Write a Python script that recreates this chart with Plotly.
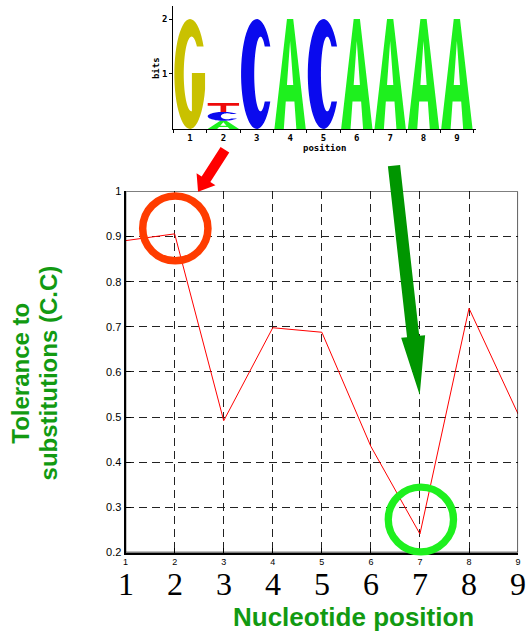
import math
import numpy as np
import plotly.graph_objects as go

# ---------------- data ----------------
positions = [1, 2, 3, 4, 5, 6, 7, 8, 9]
tolerance = [0.891, 0.906, 0.492, 0.698, 0.688, 0.435, 0.241, 0.741, 0.507]
y_ticks = [0.2, 0.3, 0.4, 0.5, 0.6, 0.7, 0.8, 0.9, 1.0]
y_tick_labels = ["0.2", "0.3", "0.4", "0.5", "0.6", "0.7", "0.8", "0.9", "1"]
x_tick_labels = ["1", "2", "3", "4", "5", "6", "7", "8", "9"]

# sequence logo (stacked bottom -> top within a position)
logo_pos = [1, 2, 2, 2, 3, 4, 5, 6, 7, 8, 9]
logo_letter = ["G", "A", "C", "T", "C", "A", "C", "A", "A", "A", "A"]
logo_bits = [2.0, 0.15, 0.16, 0.16, 2.0, 2.0, 2.0, 2.0, 2.0, 2.0, 2.0]
logo_y_ticks = [1, 2]
logo_colors = {"G": "#c9c100", "C": "#0a0aee", "A": "#1ef01e", "T": "#ee0a0a"}

W, H = 527, 637
GREEN_TXT = "#129a12"


def px(x):
    return x / W


def py(y):
    return 1 - y / H


# ---------------- glyph outlines in a unit box ----------------
def ell(cx, cy, rx, ry, a0, a1, n=48):
    a = np.radians(np.linspace(a0, a1, n))
    return list(zip(cx + rx * np.cos(a), cy + ry * np.sin(a)))


def glyph(letter):
    if letter == "C":
        ci = (0.62, 0.5, 0.2, 0.34)
        phi = math.degrees(math.asin(0.25 / ci[3]))
        pts = ell(0.5, 0.5, 0.5, 0.5, 30, 330) + ell(*ci, 360 - phi, phi)
        return [pts]
    if letter == "G":
        ci = (0.55, 0.5, 0.25, 0.34)
        phi = math.degrees(math.asin(0.25 / ci[3]))
        th = math.degrees(math.acos(0.96))
        c = (0.56 - ci[0]) / ci[2]
        lo = 360 - math.degrees(math.acos(c))
        pts = ell(0.5, 0.5, 0.5, 0.5, 30, 360 - th)
        pts += [(0.98, 0.51), (0.56, 0.51)]
        pts += ell(*ci, lo, phi)
        return [pts]
    if letter == "A":
        outer = [(0, 0), (0.4, 1), (0.6, 1), (1, 0), (0.7, 0), (0.6375, 0.25),
                 (0.3625, 0.25), (0.3, 0)]
        hole = [(0.4, 0.40), (0.6, 0.40), (0.5, 0.8)]
        return [outer, hole]
    if letter == "T":
        return [[(0, 1), (1, 1), (1, 0.7), (0.59, 0.7), (0.59, 0), (0.41, 0),
                 (0.41, 0.7), (0, 0.7)]]
    return []


def glyph_path(letter, x0, x1, y0, y1):
    parts = []
    for poly in glyph(letter):
        s = "M " + " L ".join(
            f"{x0 + (x1 - x0) * u:.5f},{y0 + (y1 - y0) * v:.5f}" for u, v in poly)
        parts.append(s + " Z")
    return " ".join(parts)


def arrow_path(tail, tip, w, hw, hl):
    tx, ty = tail
    qx, qy = tip
    L = math.hypot(qx - tx, qy - ty)
    ux, uy = (qx - tx) / L, (qy - ty) / L
    nx, ny = -uy, ux
    bx, by = qx - ux * hl, qy - uy * hl
    pts = [(tx + nx * w, ty + ny * w), (bx + nx * w, by + ny * w),
           (bx + nx * hw, by + ny * hw), (qx, qy),
           (bx - nx * hw, by - ny * hw), (bx - nx * w, by - ny * w),
           (tx - nx * w, ty - ny * w)]
    return "M " + " L ".join(f"{px(a):.5f},{py(b):.5f}" for a, b in pts) + " Z"


fig = go.Figure()

# main line
fig.add_trace(go.Scatter(
    x=positions, y=tolerance, mode="lines",
    line=dict(color="#ff0000", width=1),
    xaxis="x", yaxis="y", showlegend=False, hoverinfo="skip"))

# invisible trace anchoring the logo axes
fig.add_trace(go.Scatter(
    x=positions, y=[0] * len(positions), mode="markers",
    marker=dict(opacity=0), xaxis="x2", yaxis="y2",
    showlegend=False, hoverinfo="skip"))

shapes = []

# logo letters
stack = {}
for p, let, b in zip(logo_pos, logo_letter, logo_bits):
    base = stack.get(p, 0.0)
    shapes.append(dict(
        type="path", xref="x2", yref="y2",
        path=glyph_path(let, p - 0.47, p + 0.47, base, base + b),
        fillcolor=logo_colors[let], line=dict(width=0), fillrule="evenodd",
        layer="above"))
    stack[p] = base + b

# outer box of main plot (thin top/right)
shapes.append(dict(type="rect", xref="x", yref="y", x0=1, x1=9, y0=0.2, y1=1,
                   line=dict(color="black", width=1.3), layer="above"))

# circles
shapes.append(dict(type="circle", xref="paper", yref="paper",
                   x0=px(174.3 - 33), x1=px(174.3 + 33),
                   y0=py(226.7 + 33), y1=py(226.7 - 33),
                   line=dict(color="#ff3c00", width=7.5), layer="above"))
shapes.append(dict(type="circle", xref="paper", yref="paper",
                   x0=px(422.7 - 33), x1=px(422.7 + 33),
                   y0=py(523.3 + 33), y1=py(523.3 - 33),
                   line=dict(color="#1ef01e", width=7.3), layer="above"))

# arrows
shapes.append(dict(type="path", xref="paper", yref="paper",
                   path=arrow_path((224.5, 146.5), (197.3, 189.3), 5.2, 11.3, 15),
                   fillcolor="#ff0000", line=dict(width=0), layer="above"))
shapes.append(dict(type="path", xref="paper", yref="paper",
                   path=arrow_path((395.5, 162.7), (421.5, 396.5), 6.2, 12.2, 60),
                   fillcolor="#009600", line=dict(width=0), layer="above"))

annotations = []
# big serif position numbers
for p, t in zip(positions, x_tick_labels):
    annotations.append(dict(x=p, xref="x", y=py(589.5), yref="paper", text=t,
                            showarrow=False, xanchor="center", yanchor="middle",
                            font=dict(family="Liberation Serif, Times New Roman, serif",
                                      size=32, color="black")))

# axis titles
annotations.append(dict(x=px(355), y=py(622.5), xref="paper", yref="paper",
                        text="Nucleotide position", showarrow=False,
                        xanchor="center", yanchor="middle",
                        font=dict(family="Liberation Sans, Arial, sans-serif",
                                  size=26, color=GREEN_TXT, weight="bold")))
annotations.append(dict(x=px(18), y=py(374), xref="paper", yref="paper",
                        text="<b>Tolerance to</b>", showarrow=False, textangle=-90,
                        xanchor="center", yanchor="middle",
                        font=dict(family="Liberation Sans, Arial, sans-serif",
                                  size=24, color=GREEN_TXT)))
annotations.append(dict(x=px(46), y=py(374), xref="paper", yref="paper",
                        text="<b>substitutions (C.C)</b>", showarrow=False, textangle=-90,
                        xanchor="center", yanchor="middle",
                        font=dict(family="Liberation Sans, Arial, sans-serif",
                                  size=24, color=GREEN_TXT)))

# logo labels
logo_font = dict(family="DejaVu Sans Mono, Liberation Mono, monospace", size=9,
                 color="black", weight="bold")
annotations.append(dict(x=px(325), y=py(145), xref="paper", yref="paper",
                        text="position", showarrow=False, xanchor="center",
                        yanchor="middle", font=logo_font))
annotations.append(dict(x=px(155), y=py(63), xref="paper", yref="paper",
                        text="bits", showarrow=False, textangle=-90,
                        xanchor="center", yanchor="middle", font=logo_font))

fig.update_layout(
    width=W, height=H, autosize=False,
    margin=dict(l=0, r=0, t=0, b=0),
    paper_bgcolor="white", plot_bgcolor="rgba(0,0,0,0)",
    showlegend=False,
    xaxis=dict(domain=[px(124), px(521)], range=[1, 9], anchor="y",
               tickvals=positions, ticktext=x_tick_labels,
               showgrid=True, gridcolor="#222", griddash="8px,5px", gridwidth=1,
               ticks="inside", ticklen=5, tickcolor="black",
               showline=True, linecolor="black", linewidth=2, mirror=False,
               zeroline=False,
               tickfont=dict(family="Liberation Sans Narrow, Liberation Sans, Arial",
                             size=9, color="black")),
    yaxis=dict(domain=[py(557), py(189)], range=[0.2, 1], anchor="x",
               tickvals=y_ticks, ticktext=y_tick_labels,
               showgrid=True, gridcolor="#222", griddash="8px,5px", gridwidth=1,
               ticks="inside", ticklen=5, tickcolor="black",
               showline=True, linecolor="black", linewidth=2, mirror=False,
               zeroline=False, ticklabelstandoff=0,
               tickfont=dict(family="Liberation Sans Narrow, Liberation Sans, Arial",
                             size=11, color="black")),
    xaxis2=dict(domain=[px(172.3), px(478)], range=[0.5, 9.56], anchor="y2",
                tickvals=positions, ticktext=x_tick_labels, ticks="",
                minor=dict(tickvals=[p - 0.5 for p in positions] + [9.5],
                           ticks="outside", ticklen=3, tickcolor="black"),
                showgrid=False, zeroline=False,
                showline=True, linecolor="black", linewidth=1,
                tickfont=logo_font),
    yaxis2=dict(domain=[py(125.3), 1], range=[0, 2.237], anchor="x2",
                tickvals=logo_y_ticks, ticktext=[str(v) for v in logo_y_ticks],
                ticks="outside", ticklen=3, tickcolor="black",
                showgrid=False, zeroline=False,
                showline=True, linecolor="black", linewidth=1,
                tickfont=logo_font),
    shapes=shapes,
    annotations=annotations,
)

fig.write_html("out.html",
               config={"displayModeBar": False},
               post_script="document.body.style.margin='0';"
                           "document.body.style.overflow='hidden';")
